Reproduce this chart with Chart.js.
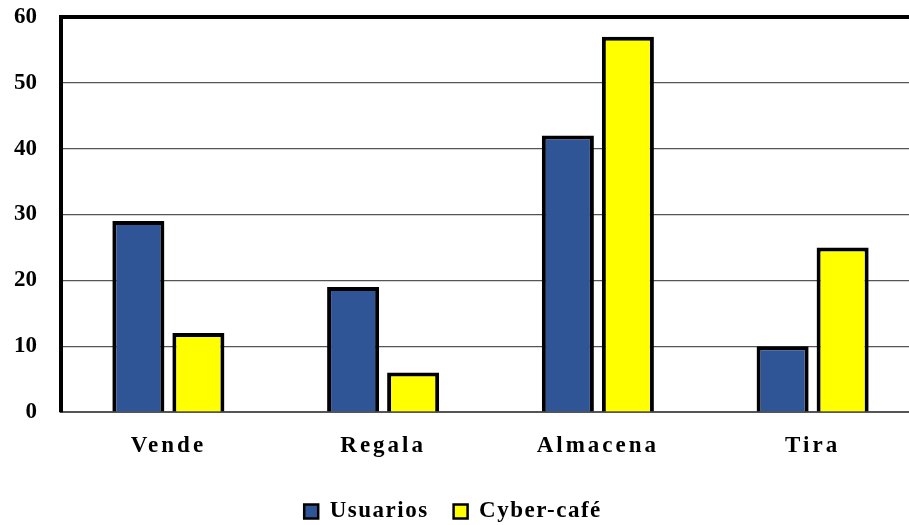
<!DOCTYPE html>
<html>
<head>
<meta charset="utf-8">
<script src="https://cdn.jsdelivr.net/npm/chart.js@4"></script>
<style>
  html, body { margin: 0; padding: 0; background: #fff; }
  /* plot area runs past the right edge in the original, so the canvas is clipped */
  #wrap { width: 909px; height: 525px; overflow: hidden; }
</style>
</head>
<body>
<div id="wrap"><canvas id="chart" width="920" height="525"></canvas></div>
<script>
const categories = ['Vende', 'Regala', 'Almacena', 'Tira'];
const usuarios = [29, 19, 42, 10];
const cyberCafe = [12, 6, 57, 25];
const yTicks = [0, 10, 20, 30, 40, 50, 60];

const serif = '"Liberation Serif", "Times New Roman", serif';

// wraps a draw/fit method so its text is drawn with extra letter spacing
function withSpacing(obj, method, spacing) {
  if (!obj || obj['_sp_' + method]) return;
  const orig = obj[method];
  obj[method] = function (...args) {
    const ctx = this.ctx;
    const prev = ctx.letterSpacing;
    ctx.letterSpacing = spacing;
    const r = orig.apply(this, args);
    ctx.letterSpacing = prev;
    return r;
  };
  obj['_sp_' + method] = true;
}

const spacingPlugin = {
  id: 'spacing',
  beforeUpdate(chart) {
    withSpacing(chart.legend, 'fit', '1.5px');
    withSpacing(chart.legend, 'draw', '1.5px');
  },
  afterLayout(chart) {
    // nudge legend to where the original has it
    const lg = chart.legend;
    lg.left -= 7; lg.right -= 7;
    lg.top += 8; lg.bottom += 8;
  },
  beforeDraw(chart) {
    withSpacing(chart.scales.x, 'drawLabels', '3px');
  }
};

function noPad(scale) {
  scale.paddingTop = 0;
  scale.paddingBottom = 0;
  scale.paddingLeft = 0;
  scale.paddingRight = 0;
}

new Chart(document.getElementById('chart'), {
  type: 'bar',
  data: {
    labels: categories,
    datasets: [
      {
        label: 'Usuarios',
        data: usuarios,
        backgroundColor: '#2F5597',
        borderColor: '#000',
        borderWidth: 4,
        borderSkipped: 'bottom'
      },
      {
        label: 'Cyber-café',
        data: cyberCafe,
        backgroundColor: '#FFFF00',
        borderColor: '#000',
        borderWidth: 4,
        borderSkipped: 'bottom'
      }
    ]
  },
  plugins: [spacingPlugin],
  options: {
    responsive: false,
    animation: false,
    categoryPercentage: 0.559,
    barPercentage: 0.867,
    layout: { padding: { top: 17, right: 0, left: 0, bottom: 0 } },
    plugins: {
      tooltip: { enabled: false },
      legend: {
        position: 'bottom',
        labels: {
          color: '#000',
          font: { family: serif, size: 23, weight: 'bold' },
          boxWidth: 14,
          boxHeight: 14,
          padding: 25,
          generateLabels(chart) {
            return chart.data.datasets.map((ds, i) => ({
              text: ds.label,
              fillStyle: ds.backgroundColor,
              strokeStyle: '#000',
              lineWidth: 2.5,
              datasetIndex: i
            }));
          }
        }
      }
    },
    scales: {
      x: {
        grid: { display: false, drawTicks: false },
        border: { color: '#555', width: 2 },
        ticks: {
          color: '#000',
          padding: 20,
          font: { family: serif, size: 23, weight: 'bold' }
        },
        afterFit(scale) { scale.height = 55; noPad(scale); }
      },
      y: {
        min: 0,
        max: 60,
        afterBuildTicks(scale) { scale.ticks = yTicks.map(v => ({ value: v })); },
        grid: {
          drawTicks: false,
          color: ctx => ctx.tick && ctx.tick.value === 60 ? '#000' : '#555',
          lineWidth: ctx => ctx.tick && ctx.tick.value === 60 ? 4 : 1.2
        },
        border: { color: '#000', width: 4 },
        ticks: {
          color: '#000',
          padding: 24,
          font: { family: serif, size: 23, weight: 'bold' }
        },
        afterFit(scale) { scale.width = 61; noPad(scale); }
      }
    }
  }
});
</script>
</body>
</html>
